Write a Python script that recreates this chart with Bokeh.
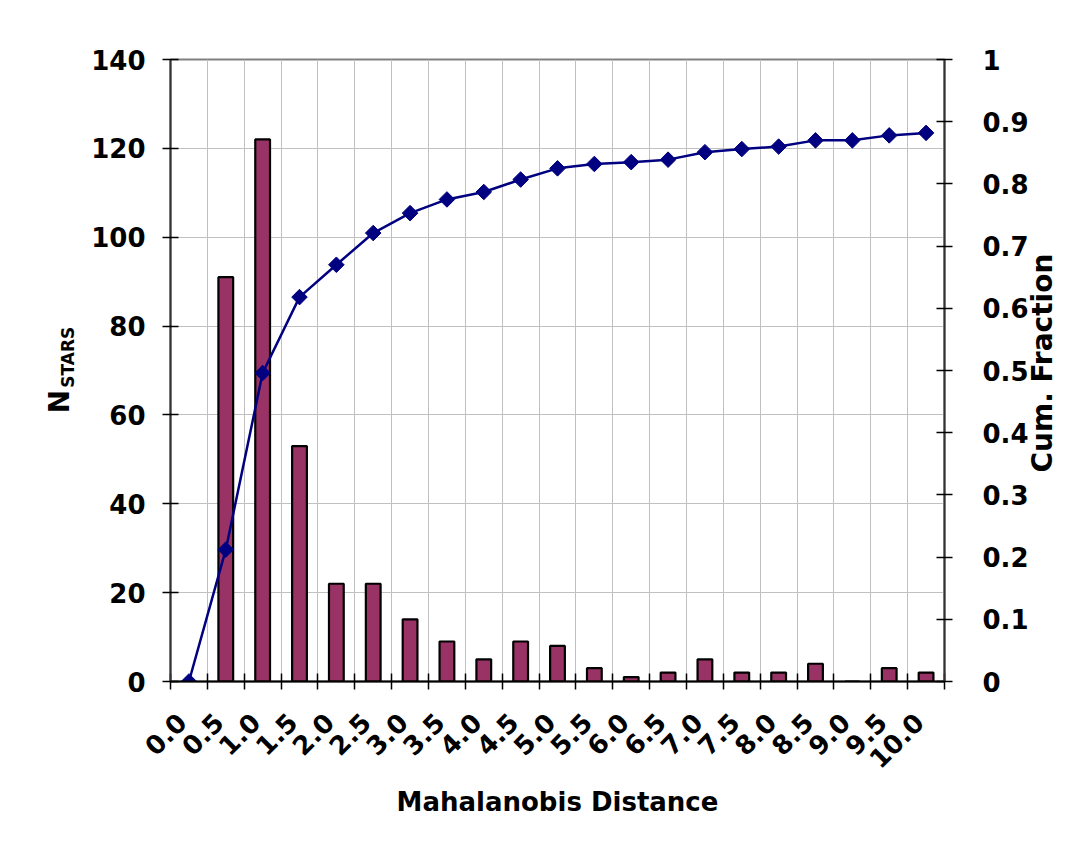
import math
from bokeh.plotting import figure
from bokeh.models import Range1d, LinearAxis, FixedTicker
from bokeh.embed import file_html
from bokeh.resources import INLINE

# ---------------- data ----------------
categories = ["0.0", "0.5", "1.0", "1.5", "2.0", "2.5", "3.0", "3.5", "4.0", "4.5",
              "5.0", "5.5", "6.0", "6.5", "7.0", "7.5", "8.0", "8.5", "9.0", "9.5", "10.0"]
n_stars = [0, 91, 122, 53, 22, 22, 14, 9, 5, 9, 8, 3, 1, 2, 5, 2, 2, 4, 0, 3, 2]
cum_fraction = [0.0, 0.212, 0.496, 0.618, 0.670, 0.721, 0.753, 0.775, 0.787, 0.807,
                0.825, 0.832, 0.835, 0.839, 0.851, 0.856, 0.860, 0.870, 0.870, 0.878, 0.882]
left_ticks = [0, 20, 40, 60, 80, 100, 120, 140]
right_ticks = [0, 0.1, 0.2, 0.3, 0.4, 0.5, 0.6, 0.7, 0.8, 0.9, 1]

# category centres / boundaries on a numeric scale
centers = [i + 0.5 for i in range(len(categories))]
bounds = list(range(len(categories) + 1))
# rotated labels hang slightly left of the category centre (Excel style)
label_pos = [c - 0.2 for c in centers]

FONT_NAME = "DejaVu Sans"
W, H = 1080, 850

p = figure(width=W, height=H,
           x_range=Range1d(0, len(categories)), y_range=Range1d(0, 140),
           output_backend="svg", toolbar_location=None,
           min_border_left=170, min_border_right=136,
           min_border_top=59, min_border_bottom=169)
p.extra_y_ranges = {"cum": Range1d(0, 1)}
p.background_fill_color = "white"
p.border_fill_color = "white"
p.outline_line_color = "#808080"
p.outline_line_width = 2

# grids
p.xgrid.ticker = FixedTicker(ticks=bounds)
p.ygrid.ticker = FixedTicker(ticks=left_ticks)
for g in (p.xgrid, p.ygrid):
    g.grid_line_color = "#c0c0c0"
    g.grid_line_width = 1

# bars
p.vbar(x=centers, top=n_stars, width=0.4, bottom=0,
       fill_color="#993366", line_color="#000000", line_width=2.2)

# cumulative line
p.line(x=centers, y=cum_fraction, y_range_name="cum",
       line_color="#000080", line_width=2.5)
p.scatter(x=centers, y=cum_fraction, y_range_name="cum", marker="square",
          angle=math.pi / 4, size=11, fill_color="#000080", line_color="#000080")


def style_ticks(ax, size="26px"):
    ax.major_label_text_font = FONT_NAME
    ax.major_label_text_font_style = "bold"
    ax.major_label_text_font_size = size
    ax.major_label_text_color = "#000000"


# bottom axis
xa = p.xaxis[0]
xa.ticker = FixedTicker(ticks=label_pos, minor_ticks=bounds)
xa.major_label_overrides = {c: lab for c, lab in zip(label_pos, categories)}
xa.major_label_orientation = math.pi / 4
xa.major_tick_line_color = None
xa.major_tick_out = 8
xa.major_tick_in = 0
xa.minor_tick_line_color = "#000000"
xa.minor_tick_line_width = 1.5
xa.minor_tick_in = 8
xa.minor_tick_out = 8
xa.axis_line_color = "#000000"
xa.axis_line_width = 2
style_ticks(xa)
xa.major_label_standoff = 28
xa.axis_label = "Mahalanobis Distance"
xa.axis_label_text_font = FONT_NAME
xa.axis_label_text_font_style = "bold"
xa.axis_label_text_font_size = "26px"
xa.axis_label_text_color = "#000000"
xa.axis_label_standoff = 7

# left axis
ya = p.yaxis[0]
ya.ticker = FixedTicker(ticks=left_ticks)
ya.major_tick_in = 8
ya.major_tick_out = 8
ya.major_tick_line_width = 1.5
ya.major_tick_line_color = "#000000"
ya.minor_tick_line_color = None
ya.axis_line_color = "#333333"
ya.axis_line_width = 2
style_ticks(ya)
ya.major_label_standoff = 17

# right axis
ra = LinearAxis(y_range_name="cum", ticker=FixedTicker(ticks=right_ticks))
ra.major_label_overrides = {0: "0", 1: "1"}
ra.major_tick_in = 8
ra.major_tick_out = 8
ra.major_tick_line_width = 1.5
ra.major_tick_line_color = "#000000"
ra.minor_tick_line_color = None
ra.axis_line_color = "#333333"
ra.axis_line_width = 2
style_ticks(ra)
ra.major_label_standoff = 30
p.add_layout(ra, "right")


# axis titles drawn as the single label of a bare axis (stays outside the frame)
def title_axis(range_name, where, text, size, orient, standoff):
    kw = {} if range_name is None else {"y_range_name": range_name}
    ax = LinearAxis(ticker=FixedTicker(ticks=[where]), **kw)
    ax.major_label_overrides = {where: text}
    ax.major_label_orientation = orient
    ax.axis_line_color = None
    ax.major_tick_line_color = None
    ax.minor_tick_line_color = None
    ax.major_tick_in = 0
    ax.major_tick_out = 0
    ax.major_label_standoff = standoff
    style_ticks(ax, size)
    return ax


p.add_layout(title_axis(None, 73, "STARS", "17px", "parallel", 10), "left")
p.add_layout(title_axis(None, 63, "N", "28px", "parallel", -21), "left")
p.add_layout(title_axis("cum", 0.336, "Cum. Fraction", "28px", math.pi / 2, 11), "right")

open("out.html", "w").write(file_html(p, INLINE))
